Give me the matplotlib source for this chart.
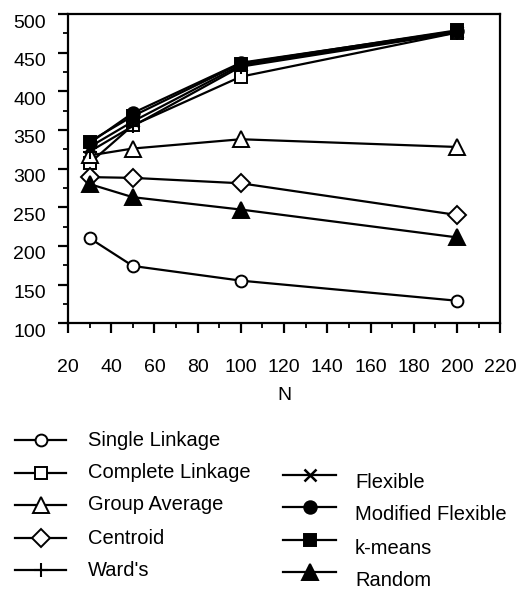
import matplotlib
matplotlib.use("Agg")
import matplotlib.pyplot as plt
from matplotlib.lines import Line2D
from matplotlib.ticker import MultipleLocator
from matplotlib.transforms import ScaledTranslation

plt.rcParams['font.family'] = ['Liberation Sans', 'DejaVu Sans']

N = [30, 50, 100, 200]
single_linkage = [210, 174, 155, 129]
complete_linkage = [307, 356, 419, 476]
group_average = [317, 326, 338, 328]
centroid = [289, 288, 281, 240]
wards = [322, 355, 432, 476]
flexible = [328, 361, 434, 477]
modified_flexible = [333, 372, 437, 478]
k_means = [335, 368, 436, 479]
random_ = [280, 263, 247, 211]

x_ticks = [20, 40, 60, 80, 100, 120, 140, 160, 180, 200, 220]
y_ticks = [100, 150, 200, 250, 300, 350, 400, 450, 500]

series = [
    ("Single Linkage", single_linkage, dict(marker='o', mfc='white', ms=8.5)),
    ("Complete Linkage", complete_linkage, dict(marker='s', mfc='white', ms=8.5)),
    ("Group Average", group_average, dict(marker='^', mfc='white', ms=12)),
    ("Centroid", centroid, dict(marker='D', mfc='white', ms=9.5)),
    ("Ward's", wards, dict(marker='+', ms=10, mew=1.5)),
    ("Flexible", flexible, dict(marker='x', ms=8, mew=1.8)),
    ("Modified Flexible", modified_flexible, dict(marker='o', mfc='black', ms=9)),
    ("k-means", k_means, dict(marker='s', mfc='black', ms=9)),
    ("Random", random_, dict(marker='^', mfc='black', ms=12)),
]

fig = plt.figure(figsize=(5.21, 6.12), dpi=100)
ax = fig.add_axes([0.1305, 0.472, 0.8295, 0.505])

for name, vals, st in series:
    st = dict(st)
    mew = st.pop('mew', 1.4)
    ax.plot(N, vals, color='black', lw=1.6, mec='black', mew=mew, **st)

ax.set_xlim(20, 220)
ax.set_ylim(100, 500)
ax.set_xticks(x_ticks)
ax.set_yticks(y_ticks)
ax.xaxis.set_minor_locator(MultipleLocator(10))
ax.yaxis.set_minor_locator(MultipleLocator(25))
ax.tick_params(axis='x', which='major', direction='out', length=7, width=1.6, labelsize=14, pad=19)
ax.tick_params(axis='y', which='major', direction='out', length=7, width=1.6, labelsize=14, pad=9)
ax.tick_params(axis='both', which='minor', direction='out', length=3.5, width=1.3)
for s in ax.spines.values():
    s.set_linewidth(1.6)
ax.set_xlabel("N", fontsize=14, labelpad=8)

shift = ScaledTranslation(0, -7 / 100, fig.dpi_scale_trans)
for lab in ax.get_yticklabels():
    lab.set_transform(lab.get_transform() + shift)

# legend drawn manually in figure coordinates
W, H = 521.0, 612.0
left_rows = [440, 473, 505, 538, 570]
right_rows = [475, 507, 540, 572]
for i, (name, vals, st) in enumerate(series):
    st = dict(st)
    mew = st.pop('mew', 1.4)
    if i < 5:
        y = left_rows[i]; x0, x1, tx = 15, 66, 88; ty = y
    else:
        y = right_rows[i - 5]; x0, x1, tx = 283, 336, 355; ty = y + 8
    fig.add_artist(Line2D([x0 / W, x1 / W], [1 - y / H, 1 - y / H], color='black', lw=1.6,
                          transform=fig.transFigure))
    fig.add_artist(Line2D([(x0 + x1) / 2 / W], [1 - y / H], color='black', lw=0, mec='black',
                          mew=mew, transform=fig.transFigure, **st))
    fig.text(tx / W, 1 - ty / H, name, fontsize=14.5, va='center', ha='left')

fig.savefig("out.png", dpi=100)
